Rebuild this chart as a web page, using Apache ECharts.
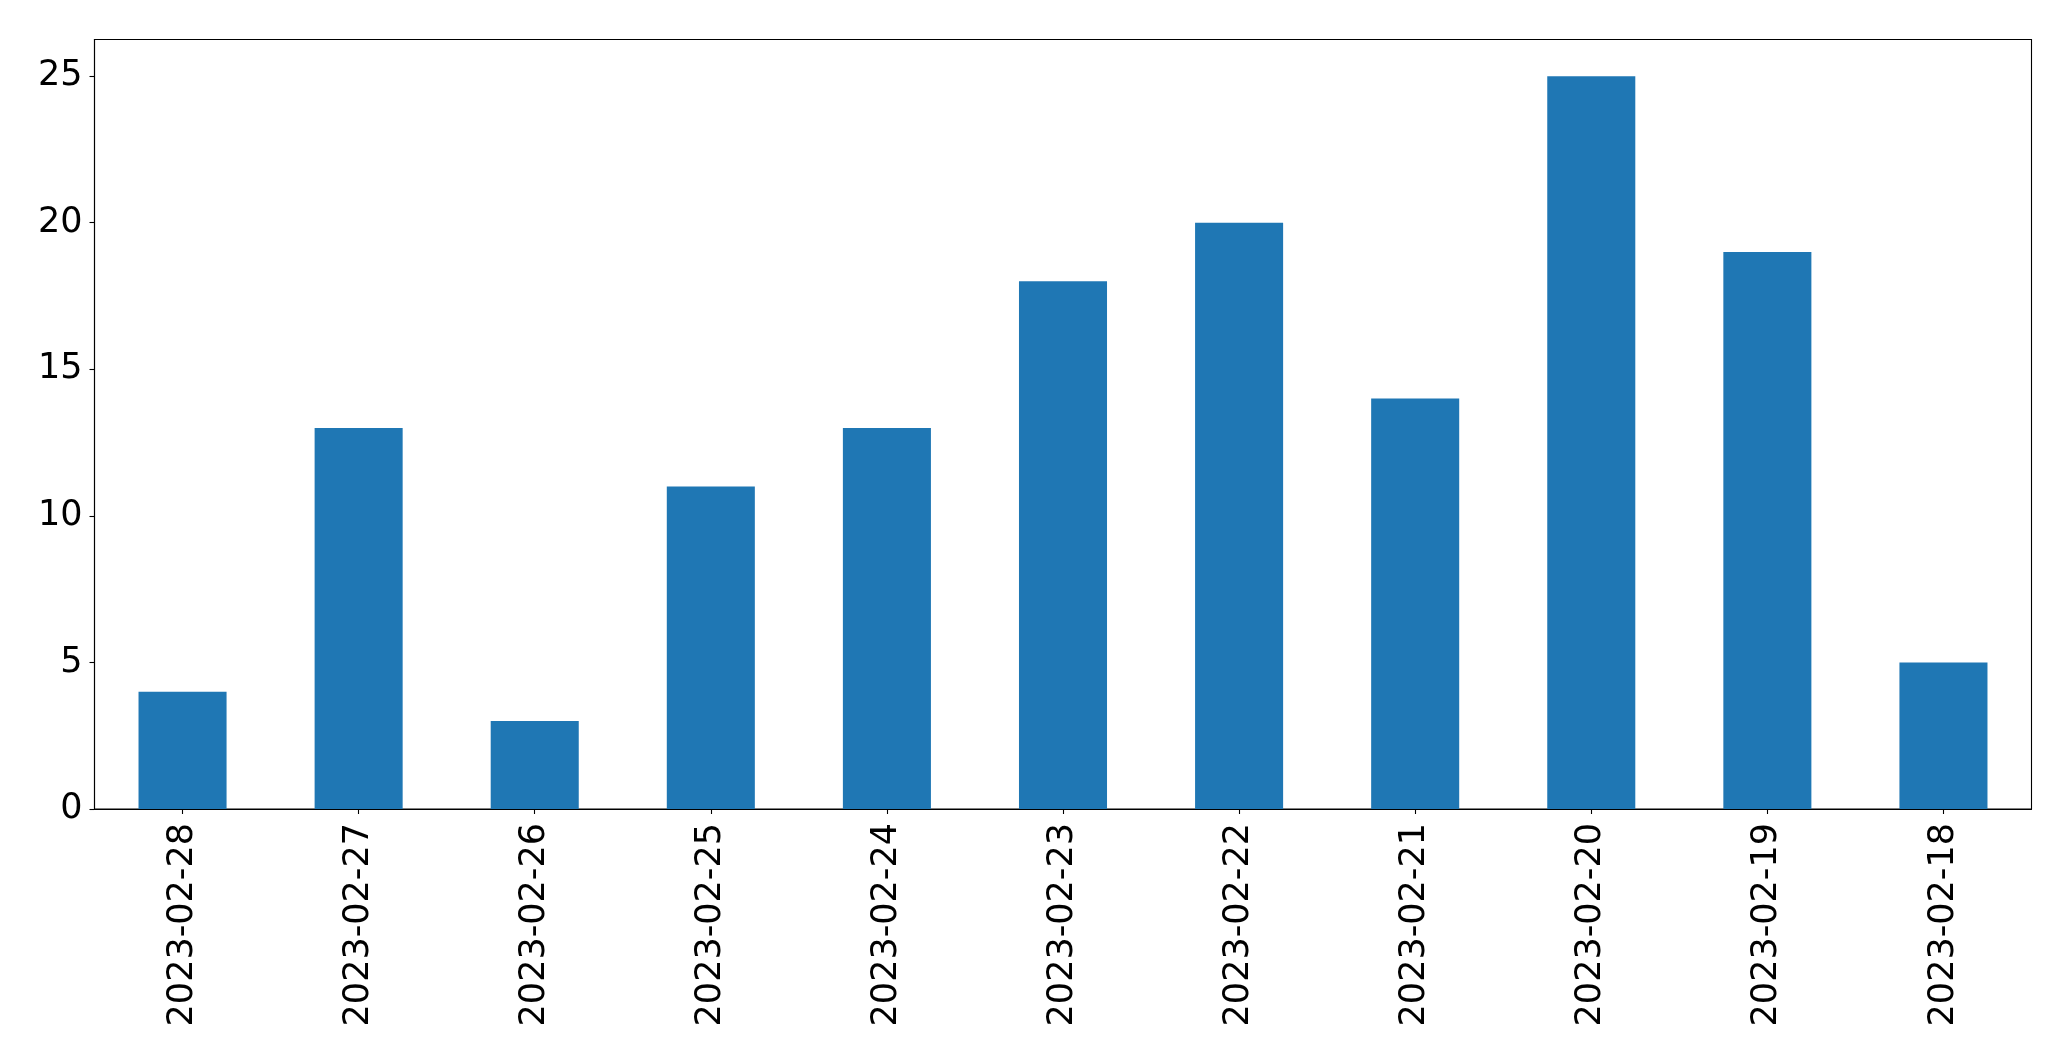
<!DOCTYPE html>
<html>
<head>
<meta charset="utf-8">
<script src="https://cdn.jsdelivr.net/npm/echarts@6/dist/echarts.min.js"></script>
<style>
html,body{margin:0;padding:0;background:#fff;}
#chart{width:2071px;height:1061px;}
</style>
</head>
<body>
<div id="chart"></div>
<script>
const categories = ["2023-02-28","2023-02-27","2023-02-26","2023-02-25","2023-02-24","2023-02-23","2023-02-22","2023-02-21","2023-02-20","2023-02-19","2023-02-18"];
const values = [4,13,3,11,13,18,20,14,25,19,5];
const yTicks = [0,5,10,15,20,25];

const chart = echarts.init(document.getElementById('chart'), null, {renderer:'canvas'});
const font = '"DejaVu Sans", sans-serif';
chart.setOption({
  animation: false,
  backgroundColor: '#ffffff',
  grid: {left: 94.5, right: 39.5, top: 39.5, bottom: 252, show: true, borderColor: '#000', borderWidth: 1.1, backgroundColor: 'transparent'},
  xAxis: {
    type: 'category',
    data: categories,
    boundaryGap: true,
    axisLine: {show: true, lineStyle: {color: '#000', width: 1.1}},
    axisTick: {show: true, alignWithLabel: true, length: 5, lineStyle: {color: '#000', width: 1.1}},
    axisLabel: {rotate: 90, margin: 14, fontSize: 35, color: '#000', fontFamily: font, interval: 0},
    splitLine: {show: false}
  },
  yAxis: {
    type: 'value',
    min: 0,
    max: 26.25,
    interval: 5,
    axisLine: {show: true, lineStyle: {color: '#000', width: 1.1}},
    axisTick: {show: true, length: 5, lineStyle: {color: '#000', width: 1.1}, customValues: yTicks},
    axisLabel: {margin: 12, fontSize: 35, color: '#000', fontFamily: font, customValues: yTicks},
    splitLine: {show: false}
  },
  series: [{
    type: 'bar',
    data: values,
    barWidth: '50%',
    itemStyle: {color: '#1f77b4'}
  }]
});
</script>
</body>
</html>
